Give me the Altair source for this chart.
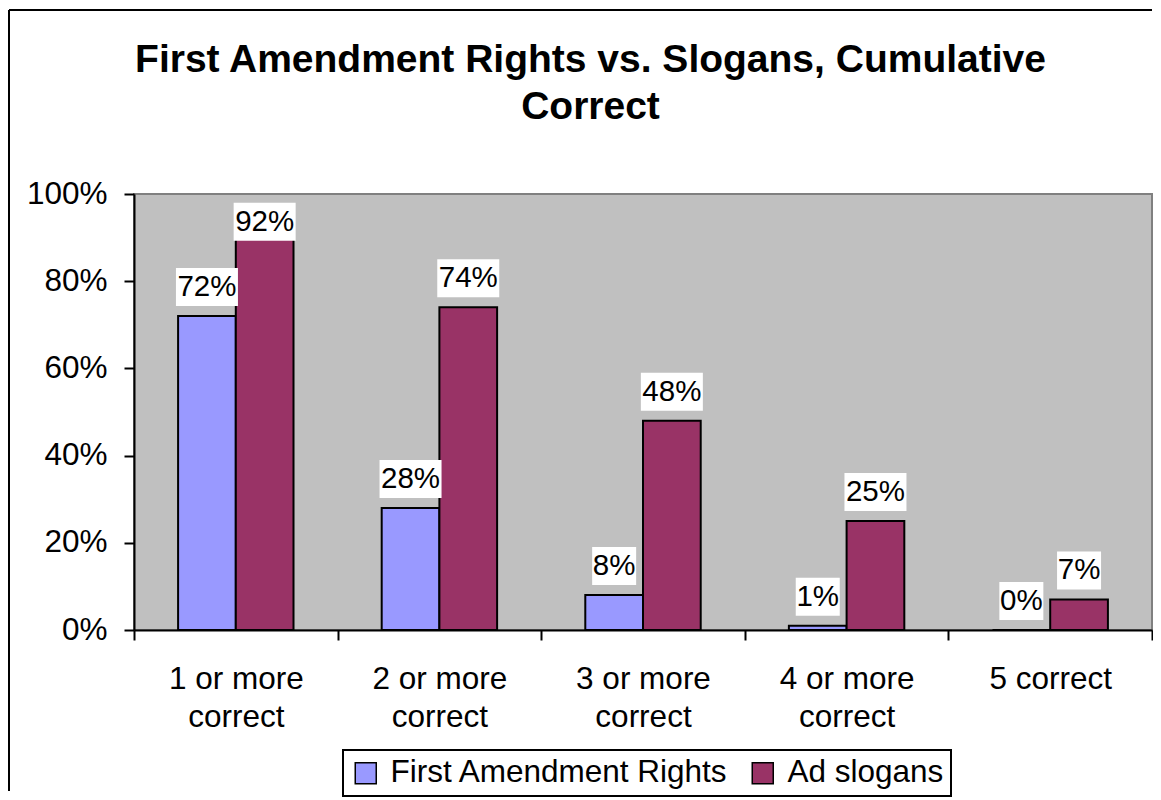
import altair as alt
import pandas as pd

categories = ["1 or more\ncorrect", "2 or more\ncorrect", "3 or more\ncorrect",
              "4 or more\ncorrect", "5 correct"]
series = ["First Amendment Rights", "Ad slogans"]
first_amendment = [0.72, 0.28, 0.08, 0.01, 0.00]
ad_slogans = [0.92, 0.74, 0.48, 0.25, 0.07]
colors = ["#9999FF", "#993366"]
y_ticks = [0, 0.2, 0.4, 0.6, 0.8, 1.0]
title_lines = ["First Amendment Rights vs. Slogans, Cumulative", "Correct"]

rows = []
for c, a, b in zip(categories, first_amendment, ad_slogans):
    rows.append({"cat": c, "series": series[0], "value": a})
    rows.append({"cat": c, "series": series[1], "value": b})
df = pd.DataFrame(rows)

FONT = "Liberation Sans"
LBL = 31.5

x_axis = alt.Axis(title=None, labelAngle=0, labelFontSize=LBL, labelFont=FONT,
                  labelColor="black", labelLineHeight=38, labelPadding=23,
                  labelExpr="split(datum.label, '\\n')", tickBand="extent",
                  tickSize=10, tickWidth=2, tickColor="black",
                  domainColor="black", domainWidth=2, grid=False)
x_enc = alt.X("cat:N", sort=categories,
              scale=alt.Scale(paddingInner=0, paddingOuter=0), axis=x_axis)
xo_enc = alt.XOffset("series:N", sort=series,
                     scale=alt.Scale(paddingInner=0, paddingOuter=0.764))
y_scale = alt.Scale(domain=[0, 1])
y_axis = alt.Axis(title=None, values=y_ticks, format=".0%", labelFontSize=LBL,
                  labelFont=FONT, labelColor="black", labelPadding=17,
                  tickSize=10, tickWidth=2, tickColor="black",
                  domainColor="black", domainWidth=2, grid=False)

base = alt.Chart(df)

bars = base.mark_bar(stroke="black", strokeWidth=2).encode(
    x=x_enc,
    xOffset=xo_enc,
    y=alt.Y("value:Q", scale=y_scale, axis=y_axis),
    color=alt.Color("series:N", sort=series,
                    scale=alt.Scale(domain=series, range=colors),
                    legend=alt.Legend(title=None, orient="none", legendX=209,
                                      legendY=556, direction="horizontal",
                                      symbolType="square", symbolSize=441,
                                      symbolStrokeColor="black",
                                      symbolStrokeWidth=1.5,
                                      labelFontSize=LBL, labelFont=FONT,
                                      labelColor="black", labelOffset=9,
                                      labelLimit=0,
                                      columnPadding=18, padding=7,
                                      strokeColor="black")),
)

lab = base.transform_calculate(
    label="format(datum.value, '.0%')",
    ly="min(datum.value, 0.87)",
    bw="length(format(datum.value, '.0%')) * 18 + 8",
)

boxes = lab.mark_bar(color="white", yOffset=-48, y2Offset=-10).encode(
    x=alt.X("cat:N", sort=categories),
    xOffset=xo_enc,
    y=alt.Y("ly:Q", scale=y_scale),
    y2="ly:Q",
    size=alt.Size("bw:Q", scale=None),
)
texts = lab.mark_text(fontSize=29.5, font=FONT, color="black", dy=-29,
                      baseline="middle").encode(
    x=alt.X("cat:N", sort=categories),
    xOffset=xo_enc,
    y=alt.Y("ly:Q", scale=y_scale),
    text="label:N",
)

frame_df = pd.DataFrame({"k": [0]})
frame_left = alt.Chart(frame_df).mark_rule(color="black", strokeWidth=2).encode(
    x=alt.value(-125), y=alt.value(-184), y2=alt.value(597))
frame_top = alt.Chart(frame_df).mark_rule(color="black", strokeWidth=2).encode(
    x=alt.value(-125), x2=alt.value(1018), y=alt.value(-184))

chart = alt.layer(bars, boxes, texts, frame_left, frame_top).properties(
    width=1018,
    height=436,
    padding={"left": 0, "top": 1, "right": 0, "bottom": 0},
    title=alt.Title(text=title_lines, fontSize=39, font=FONT, fontWeight="bold",
                    lineHeight=47, anchor="middle", frame="bounds", dx=10,
                    offset=-118, color="black"),
).configure(font=FONT).configure_view(
    fill="#C0C0C0", stroke="#808080", strokeWidth=2
).configure_legend(strokeWidth=2)

chart.save("out.html", embed_options={"renderer": "svg", "actions": False})
